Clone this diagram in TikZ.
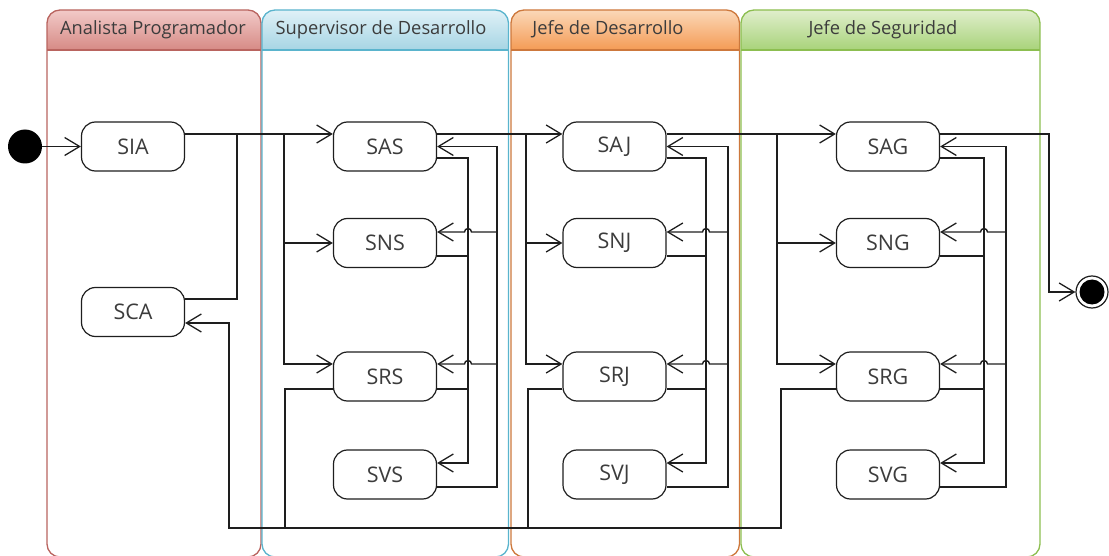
\documentclass[tikz,border=0pt]{standalone}
\usepackage{fontspec}
\setmainfont{Open Sans}
\usetikzlibrary{arrows.meta,calc}
\definecolor{ln}{RGB}{30,30,30}
\definecolor{tx}{RGB}{60,60,60}
\definecolor{aB}{RGB}{185,100,95}
\definecolor{aT}{RGB}{242,202,200}
\definecolor{aD}{RGB}{214,138,133}
\definecolor{sB}{RGB}{90,180,205}
\definecolor{sT}{RGB}{224,241,247}
\definecolor{sD}{RGB}{166,213,228}
\definecolor{jB}{RGB}{205,120,60}
\definecolor{jT}{RGB}{251,216,184}
\definecolor{jD}{RGB}{244,155,85}
\definecolor{gB}{RGB}{140,190,80}
\definecolor{gT}{RGB}{224,238,204}
\definecolor{gD}{RGB}{168,211,122}
\tikzset{
  stbox/.style={draw=ln, line width=1.2pt, rounded corners=14pt, minimum width=103pt,
    minimum height=49pt, inner sep=0pt, fill=white, text=tx, font=\fontsize{21.5}{24}\selectfont},
  hdr/.style={text=tx, font=\fontsize{18.3}{22}\selectfont, anchor=base, inner sep=0pt},
  conn/.style={draw=ln, line width=1.4pt},
  arr/.style={conn, -{Straight Barb[length=15pt,width=18pt,line width=1.3pt]}},
}
\newcommand\mylane[5]{%
  \begin{scope}
    \clip[rounded corners=13pt] (#1,10) rectangle (#2,557);
    \shade[top color=#4, bottom color=#5] (#1,10) rectangle (#2,50);
  \end{scope}
  \draw[#3, line width=1.3pt, rounded corners=13pt] (#1,10) rectangle (#2,557);
  \draw[#3, line width=1.3pt] (#1,50) -- (#2,50);
}
\newcommand\colwires[8]{%
  \draw[arr] (#7) |- (#2.west);
  \draw[arr] (#7) |- ($(#3.west)+(0,-12.5)$);
  \draw[arr] ($(#1.east)+(0,11.5)$) -| (#5) |- ($(#4.east)+(0,-11.5)$);
  \draw[conn] ($(#2.east)+(0,13)$) -| (#5);
  \draw[conn] ($(#3.east)+(0,12.5)$) -| (#5);
  \draw[arr] ($(#4.east)+(0,12.5)$) -| (#6) |- (#1.east);
  \draw[arr] ($(#2.east -| #6)+(0,-11)$) -- ($(#2.east -| #5)+(3.5,-11)$)
     arc[start angle=0,end angle=-180,radius=3.5] -- ($(#2.east)+(0,-11)$);
  \draw[arr] ($(#3.east -| #6)+(0,-12.5)$) -- ($(#3.east -| #5)+(3.5,-12.5)$)
     arc[start angle=0,end angle=-180,radius=3.5] -- ($(#3.east)+(0,-12.5)$);
  \draw[conn] ($(#3.west)+(0,12.5)$) -| (#8);
}
\begin{document}
\begin{tikzpicture}[x=1pt,y=-1pt]
\useasboundingbox (0,0) rectangle (1109,556);
\mylane{47}{261}{aB}{aT}{aD}
\mylane{262}{508.5}{sB}{sT}{sD}
\mylane{511}{739.5}{jB}{jT}{jD}
\mylane{741}{1040}{gB}{gT}{gD}
\node[hdr] (hA) at (153,35) {Analista Programador};
\node[hdr] (hS) at (381,35) {Supervisor de Desarrollo};
\node[hdr] (hJ) at (608,35) {Jefe de Desarrollo};
\node[hdr] (hG) at (883,35) {Jefe de Seguridad};

\node[circle, fill=black, minimum size=34pt, inner sep=0pt] (start) at (25,146.5) {};
\node[circle, draw=ln, line width=1.2pt, fill=white, minimum size=32pt, inner sep=0pt] (end) at (1092,292) {};
\fill[black] (end.center) circle (12.5pt);

\node[stbox] (SIA) at (133,146.5) {SIA};
\node[stbox] (SCA) at (133,312) {SCA};
\node[stbox] (SAS) at (385,146.5) {SAS};
\node[stbox] (SNS) at (385,243) {SNS};
\node[stbox] (SRS) at (385,376.5) {SRS};
\node[stbox] (SVS) at (385,474.5) {SVS};
\node[stbox] (SAJ) at (614.5,146.5) {SAJ};
\node[stbox] (SNJ) at (614.5,243) {SNJ};
\node[stbox] (SRJ) at (614.5,376.5) {SRJ};
\node[stbox] (SVJ) at (614.5,474.5) {SVJ};
\node[stbox] (SAG) at (888,146.5) {SAG};
\node[stbox] (SNG) at (888,243) {SNG};
\node[stbox] (SRG) at (888,376.5) {SRG};
\node[stbox] (SVG) at (888,474.5) {SVG};

\coordinate (iS) at (468,300); \coordinate (oS) at (497,300);
\coordinate (jS) at (284,134); \coordinate (bS) at (285,528);
\coordinate (iJ) at (706,300); \coordinate (oJ) at (728,300);
\coordinate (jJ) at (526,134); \coordinate (bJ) at (528,528);
\coordinate (iG) at (984,300); \coordinate (oG) at (1006,300);
\coordinate (jG) at (777,134); \coordinate (bG) at (781,528);
\coordinate (jA) at (237,134); \coordinate (bA) at (229,528);
\coordinate (eX) at (1049,200);

\draw[arr] (start) -- (SIA);
\draw[arr] ($(SIA.east)+(0,-12.5)$) -- ($(SAS.west)+(0,-12.5)$);
\draw[arr] ($(SAS.east)+(0,-12.5)$) -- ($(SAJ.west)+(0,-12.5)$);
\draw[arr] ($(SAJ.east)+(0,-12.5)$) -- ($(SAG.west)+(0,-12.5)$);
\draw[arr] ($(SAG.east)+(0,-12.5)$) -| (eX) |- (end.west);
\draw[conn] ($(SCA.east)+(0,-13)$) -| (jA);
\colwires{SAS}{SNS}{SRS}{SVS}{iS}{oS}{jS}{bS}
\colwires{SAJ}{SNJ}{SRJ}{SVJ}{iJ}{oJ}{jJ}{bJ}
\colwires{SAG}{SNG}{SRG}{SVG}{iG}{oG}{jG}{bG}
\draw[arr] ($(SRG.west)+(0,12.5)$) -| (bG) -- (bA) |- ($(SCA.east)+(0,11)$);
\end{tikzpicture}
\end{document}
